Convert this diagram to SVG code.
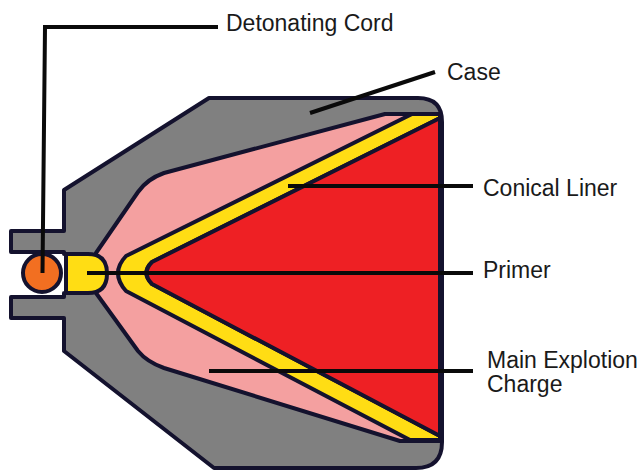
<svg xmlns="http://www.w3.org/2000/svg" width="643" height="472" viewBox="0 0 643 472">
<style>
.o{stroke:#14122e;stroke-width:4;stroke-linejoin:round}
.l{fill:none;stroke:#0a0a0a;stroke-width:4;stroke-linejoin:miter}
text{font-family:"Liberation Sans",Arial,sans-serif;font-size:23px;fill:#1a1a1a}
</style>
<rect width="643" height="472" fill="#fff"/>
<g id="case"><path class="o" fill="#808080" d="M64 190L209 98H418Q442 98 442 122V442Q442 468 416 468H214L64 351V318H11V297H64V293H66V254H64V252H11V231H64Z"/></g>
<g id="main-charge"><path class="o" fill="#f4a0a0" d="M96 253L138 192Q147 179 164 173L385 114H440V441H400L164 368Q147 362 138 351L96 293Z"/></g>
<g id="primer"><path class="o" fill="#ffdd14" d="M66 254H88Q107 254 107 273.500Q107 293 88 293H66Z"/></g>
<g id="liner"><path class="o" fill="#ffdd14" d="M412 114H440L440 118L152 262Q141 273 152 284L440 436V440H410L126 291Q110 273 126 256Z"/></g>
<g id="explosive"><path class="o" fill="#ee2024" d="M440 118V436L152 284Q141 273 152 262Z"/></g>
<g id="cord"><circle class="o" cx="42" cy="273" r="19" fill="#f26f21"/></g>
<g id="connectors">
<path class="l" d="M218 27H45L42.500 273"/>
<path class="l" d="M310 113L435 72"/>
<path class="l" d="M288 186H473"/>
<path class="l" d="M87 273H473"/>
<path class="l" d="M209 371H473"/>
</g>
<g id="labels">
<text x="226" y="31">Detonating Cord</text>
<text x="447" y="80">Case</text>
<text x="483" y="196">Conical Liner</text>
<text x="483" y="278">Primer</text>
<text x="487" y="368">Main Explotion</text>
<text x="487" y="392">Charge</text>
</g>
</svg>
